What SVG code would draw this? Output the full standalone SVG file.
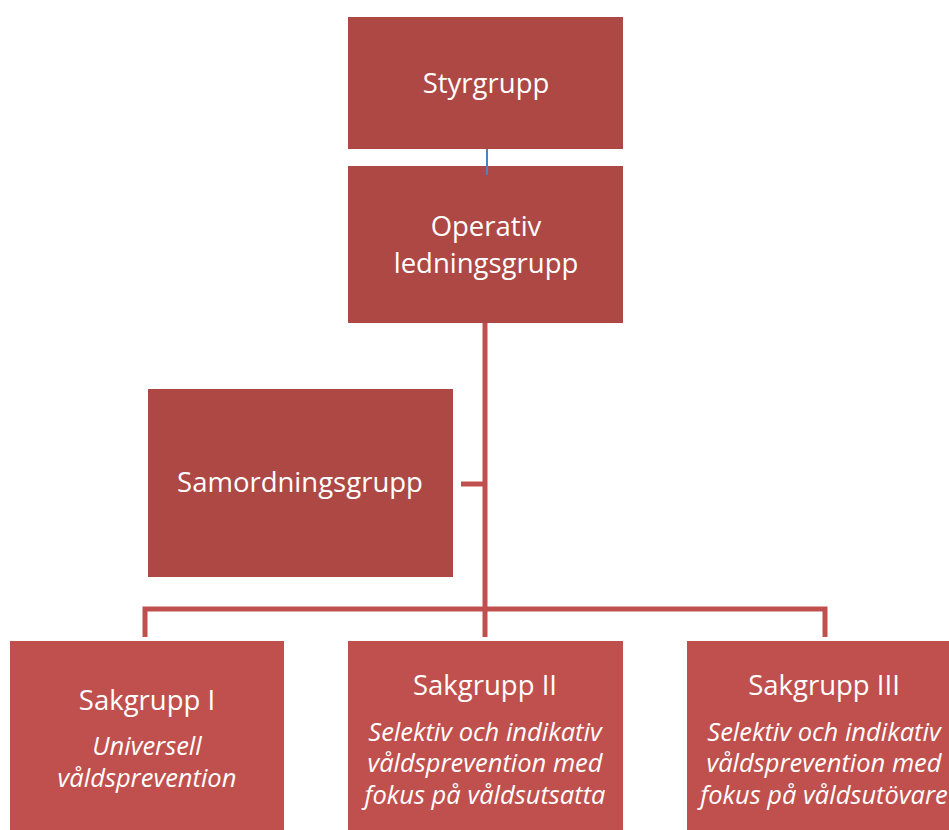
<svg xmlns="http://www.w3.org/2000/svg" width="949" height="830" viewBox="0 0 949 830">
<style>
.top{fill:#AD4844}
.bot{fill:#C0504D}
.t{font-family:"Open Sans","Liberation Sans",sans-serif;fill:#fff;text-anchor:middle}
.h{font-size:27.5px}
.i{font-size:25.5px;font-style:italic}
.c{stroke:#C0504D;stroke-width:5;fill:none}
</style>
<rect width="949" height="830" fill="#fff"/>
<g id="styrgrupp">
<rect class="top" x="348" y="17" width="275" height="132"/>
<text class="t h" x="486" y="93">Styrgrupp</text>
</g>
<g id="operativ">
<rect class="top" x="348" y="166" width="275" height="157"/>
<text class="t h" x="486" y="236">Operativ</text>
<text class="t h" x="486" y="273">ledningsgrupp</text>
</g>
<g id="samordning">
<rect class="top" x="148" y="389" width="305" height="188"/>
<text class="t h" x="300" y="492">Samordningsgrupp</text>
</g>
<g id="sakgrupp1">
<rect class="bot" x="10" y="641" width="274" height="189"/>
<text class="t h" x="147" y="710">Sakgrupp I</text>
<text class="t i" x="147" y="755">Universell</text>
<text class="t i" x="147" y="787">våldsprevention</text>
</g>
<g id="sakgrupp2">
<rect class="bot" x="348" y="641" width="275" height="189"/>
<text class="t h" x="485" y="695">Sakgrupp II</text>
<text class="t i" x="485" y="741">Selektiv och indikativ</text>
<text class="t i" x="485" y="772">våldsprevention med</text>
<text class="t i" x="485" y="804">fokus på våldsutsatta</text>
</g>
<g id="sakgrupp3">
<rect class="bot" x="687" y="641" width="275" height="189"/>
<text class="t h" x="824" y="695">Sakgrupp III</text>
<text class="t i" x="824" y="741">Selektiv och indikativ</text>
<text class="t i" x="824" y="772">våldsprevention med</text>
<text class="t i" x="824" y="804">fokus på våldsutövare</text>
</g>
<g id="connectors">
<line x1="487" y1="149" x2="487" y2="175" stroke="#4F81BD" stroke-width="2"/>
<line class="c" x1="485" y1="323" x2="485" y2="637"/>
<line class="c" x1="461" y1="484" x2="485" y2="484"/>
<polyline class="c" points="145,637 145,609 825,609 825,637"/>
</g>
</svg>
